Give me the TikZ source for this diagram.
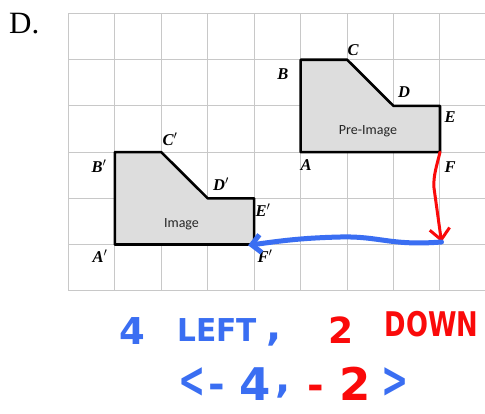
\documentclass[tikz,border=0pt]{standalone}
\usepackage{fontspec}
\usepackage{graphicx}
\setmainfont{Liberation Serif}
\newfontfamily\lblfont{Liberation Serif}
\newfontfamily\sansf{Carlito}
\newfontfamily\handf{DejaVu Sans}
\usetikzlibrary{arrows.meta}
\definecolor{penblue}{RGB}{58,110,242}
\definecolor{penred}{RGB}{250,10,10}
\definecolor{gridgray}{RGB}{200,200,200}
\definecolor{shapefill}{RGB}{221,221,221}
\newcommand{\hf}[1]{\handf\bfseries\fontsize{#1}{#1}\selectfont}
\tikzset{
  gridline/.style={draw=gridgray, line width=1pt},
  figure/.style={draw=black, fill=shapefill, line width=2.6pt, line join=round},
  vlabel/.style={font=\lblfont\bfseries\itshape\fontsize{16.5}{16.5}\selectfont, inner sep=0pt},
  flabel/.style={font=\sansf\fontsize{14}{14}\selectfont, text=black!85, inner sep=0pt},
  bluehand/.style={text=penblue, inner sep=0pt},
  redhand/.style={text=penred, inner sep=0pt},
  redpen/.style={draw=penred, line width=3pt, line cap=round, line join=round, -{Straight Barb[length=11pt,width=20pt]}},
  bluepen/.style={draw=penblue, line width=5pt, line cap=round, line join=round, -{Straight Barb[length=9pt,width=18pt]}}
}
\begin{document}
\begin{tikzpicture}[x=1pt,y=-1pt]
\useasboundingbox (0,0) rectangle (485,413);
\fill[white] (0,0) rectangle (485,413);
% grid
\foreach \i in {0,...,8} \draw[gridline] ({68.3+46.46*\i},13.5) -- ({68.3+46.46*\i},290.7);
\foreach \j in {0,...,6} \draw[gridline] (68.3,{13.5+46.2*\j}) -- (485,{13.5+46.2*\j});
% D.
\node[anchor=base west, font=\fontsize{31}{31}\selectfont, inner sep=0pt] (title) at (9,33) {D.};
% pre-image
\coordinate (A) at (300.6,152.1);
\coordinate (B) at (300.6,59.7);
\coordinate (C) at (347.1,59.7);
\coordinate (D) at (393.5,105.9);
\coordinate (E) at (440.0,105.9);
\coordinate (F) at (440.0,152.1);
\draw[figure] (A) -- (B) -- (C) -- (D) -- (E) -- (F) -- cycle;
% image
\coordinate (A1) at (114.8,244.5);
\coordinate (B1) at (114.8,152.1);
\coordinate (C1) at (161.2,152.1);
\coordinate (D1) at (207.7,198.3);
\coordinate (E1) at (254.1,198.3);
\coordinate (F1) at (254.1,244.5);
\draw[figure] (A1) -- (B1) -- (C1) -- (D1) -- (E1) -- (F1) -- cycle;
% labels
\node[vlabel] (lB) at (283,74) {B};
\node[vlabel] (lC) at (353,50) {C};
\node[vlabel] (lD) at (404,92) {D};
\node[vlabel] (lE) at (450,117) {E};
\node[vlabel] (lF) at (450,167) {F};
\node[vlabel] (lA) at (306,165) {A};
\node[flabel] (pre) at (368,131.5) {Pre-Image};
\node[vlabel] (lB1) at (99,166) {B$'$};
\node[vlabel] (lC1) at (170,139) {C$'$};
\node[vlabel] (lD1) at (221,184) {D$'$};
\node[vlabel] (lE1) at (263,210) {E$'$};
\node[vlabel] (lA1) at (100,256) {A$'$};
\node[vlabel] (lF1) at (265,256) {F$'$};
\node[flabel] (img) at (181.5,224.5) {Image};
% arrows
\coordinate (F2) at (441.5,242);
\draw[redpen] (F) .. controls (437,165) and (433,176) .. (434,188) -- (F2);
\draw[bluepen, shorten >=-6pt] (F2) .. controls (390,246) and (380,236) .. (340,237) .. controls (300,238) and (280,241) .. (F1);
% handwriting, line 1
\node[bluehand, font=\hf{37}] (h4) at (132.5,331.5) {4};
\node[bluehand, font=\hf{31.5}] (hleft) at (217,330) {\scalebox{0.94}[1]{LEFT}};
\node[bluehand, font=\hf{40}, anchor=base] (hcomma) at (274,340) {,};
\node[redhand, font=\hf{36}] (h2) at (341,330) {2};
\node[redhand, font=\hf{34}] (hdown) at (431.5,324.5) {\scalebox{0.76}[1]{DOWN}};
% handwriting, line 2
\node[bluehand, font=\hf{50}] (lt) at (192.5,382.5) {\scalebox{0.65}[1]{<}};
\node[bluehand, font=\hf{40}, anchor=base] (m1) at (216.5,398) {-};
\node[bluehand, font=\hf{45}] (f4) at (255,384) {4};
\node[bluehand, font=\hf{40}, anchor=base] (c2) at (283,392) {,};
\node[redhand, font=\hf{40}, anchor=base] (m2) at (315.5,399) {-};
\node[redhand, font=\hf{45}] (t2) at (355,384) {2};
\node[bluehand, font=\hf{50}] (gt) at (395,382.5) {\scalebox{0.65}[1]{>}};
\end{tikzpicture}
\end{document}
